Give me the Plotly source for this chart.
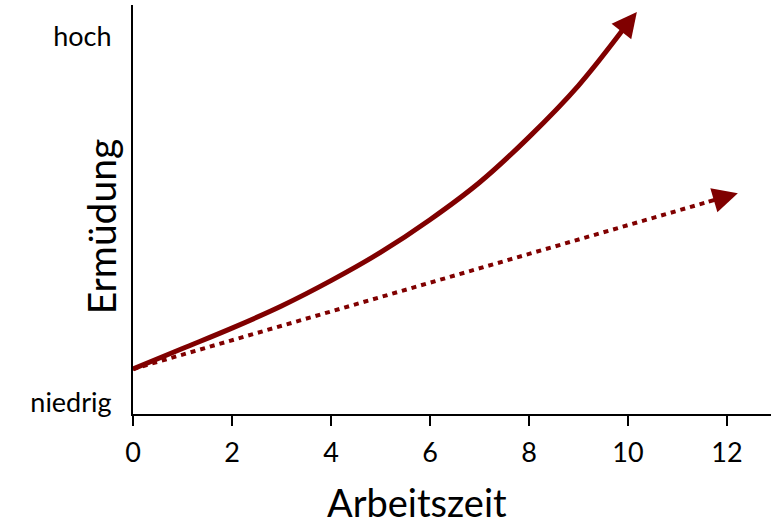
import plotly.graph_objects as go

# Data
curve_x = [0, 1, 2, 3, 4, 5, 6, 7, 8, 9, 9.92]
curve_y = [11, 16, 21, 26.4, 32.6, 39.5, 47.5, 56.6, 67.7, 80.3, 94.3]
curve_tip = (10.18, 98.3)

line_x = [0, 11.6]
line_y = [11, 51.8]
line_tip = (12.22, 54)

x_ticks = [0, 2, 4, 6, 8, 10, 12]
y_tickvals = [2.9, 92.2]
y_ticktext = ["niedrig", "hoch"]

RED = "#800000"
FONT = "Lato"

fig = go.Figure()
fig.add_trace(go.Scatter(x=line_x, y=line_y, mode="lines",
                         line=dict(color=RED, width=4, dash="5px,5px"),
                         hoverinfo="skip", showlegend=False))
fig.add_trace(go.Scatter(x=curve_x, y=curve_y, mode="lines",
                         line=dict(color=RED, width=5, shape="spline"),
                         hoverinfo="skip", showlegend=False))

fig.add_annotation(x=curve_tip[0], y=curve_tip[1], ax=curve_x[-1], ay=curve_y[-1],
                   xref="x", yref="y", axref="x", ayref="y", text="",
                   showarrow=True, arrowhead=2, arrowwidth=5, arrowsize=1.0,
                   arrowcolor=RED)
fig.add_annotation(x=line_tip[0], y=line_tip[1], ax=line_x[-1], ay=line_y[-1],
                   xref="x", yref="y", axref="x", ayref="y", text="",
                   showarrow=True, arrowhead=2, arrowwidth=4, arrowsize=1.25,
                   arrowcolor=RED)

fig.add_annotation(text="Arbeitszeit", x=0.445, y=-0.215, xref="paper", yref="paper",
                   showarrow=False, xanchor="center", yanchor="middle",
                   font=dict(family=FONT, size=38, color="black"))
fig.add_annotation(text="Ermüdung", x=-0.05, y=0.459, xref="paper", yref="paper",
                   showarrow=False, xanchor="center", yanchor="middle", textangle=-90,
                   font=dict(family=FONT, size=39, color="black"))

fig.update_xaxes(range=[0, 12.89], tickvals=x_ticks, ticks="outside", ticklen=10,
                 tickwidth=2, tickcolor="black", showline=True, linewidth=2,
                 linecolor="black", showgrid=False, zeroline=False,
                 tickfont=dict(family=FONT, size=27, color="black"),
                 ticklabelstandoff=4)
fig.update_yaxes(range=[0, 100], tickvals=y_tickvals, ticktext=y_ticktext, ticks="",
                 showline=True, linewidth=2, linecolor="black", showgrid=False,
                 zeroline=False, tickfont=dict(family=FONT, size=27, color="black"),
                 ticklabelstandoff=14)

fig.update_layout(width=782, height=524, margin=dict(l=133, r=11, t=5, b=110),
                  plot_bgcolor="white", paper_bgcolor="white")

fig.write_html("out.html", config={"displayModeBar": False},
               post_script="document.body.style.margin='0px';")
